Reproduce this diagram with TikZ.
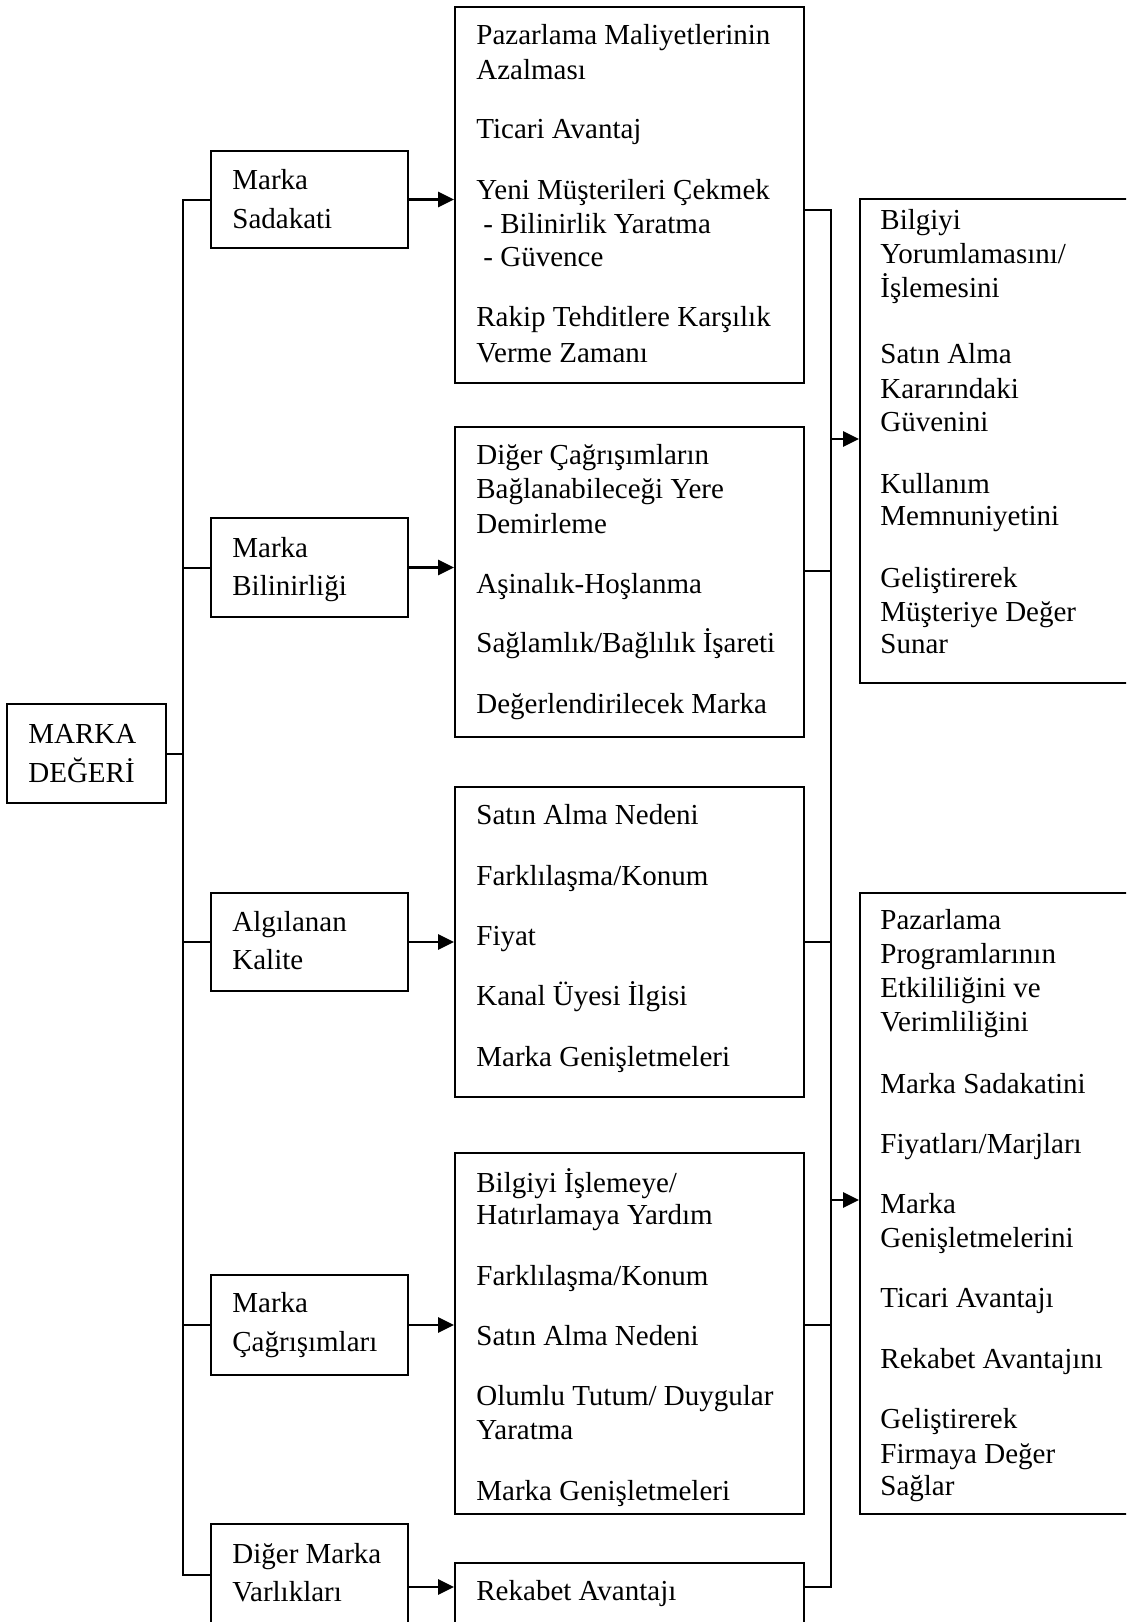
\documentclass[tikz,border=0pt]{standalone}
\usepackage{fontspec}
\setmainfont{Liberation Serif}
\usetikzlibrary{arrows.meta,fit}
\tikzset{
  box/.style={draw=black,line width=1pt,inner sep=0pt,rectangle},
  txt/.style={anchor=base west,inner sep=0pt,font=\fontsize{14.5pt}{17pt}\selectfont},
  conn/.style={draw=black,line width=1pt},
  arr/.style={draw=black,line width=1.4pt,-{Triangle[length=8pt,width=7.5pt]}}
}
\begin{document}
\begin{tikzpicture}[x=0.5pt,y=-0.5pt]
\useasboundingbox (0,0) rectangle (1126,1622);
\clip (0,0) rectangle (1126,1622);
\fill[white] (0,0) rectangle (1126,1622);
% boxes
\node[box,fit={(7,704) (166,803)}] (MD) {};
\node[box,fit={(211,151) (408,248)}] (S1) {};
\node[box,fit={(211,518) (408,617)}] (S2) {};
\node[box,fit={(211,893) (408,991)}] (S3) {};
\node[box,fit={(211,1275) (408,1375)}] (S4) {};
\node[box,fit={(211,1524) (408,1680)}] (S5) {};
\node[box,fit={(455,7) (804,383)}] (M1) {};
\node[box,fit={(455,427) (804,737)}] (M2) {};
\node[box,fit={(455,787) (804,1097)}] (M3) {};
\node[box,fit={(455,1153) (804,1514)}] (M4) {};
\node[box,fit={(455,1563) (804,1680)}] (M5) {};
\node[box,fit={(860,199) (1160,683)}] (R1) {};
\node[box,fit={(860,893) (1160,1514)}] (R2) {};
% texts
\node[txt] (md1) at (28,743) {MARKA};
\node[txt] (md2) at (28,782) {DEĞERİ};
\node[txt] (s1a) at (232,189) {Marka};
\node[txt] (s1b) at (232,228) {Sadakati};
\node[txt] (s2a) at (232,557) {Marka};
\node[txt] (s2b) at (232,595) {Bilinirliği};
\node[txt] (s3a) at (232,931) {Algılanan};
\node[txt] (s3b) at (232,969) {Kalite};
\node[txt] (s4a) at (232,1312) {Marka};
\node[txt] (s4b) at (232,1351) {Çağrışımları};
\node[txt] (s5a) at (232,1563) {Diğer Marka};
\node[txt] (s5b) at (232,1601) {Varlıkları};
\foreach \y/\t [count=\i] in {44/{Pazarlama Maliyetlerinin},79/{Azalması},138/{Ticari Avantaj},199/{Yeni Müşterileri Çekmek},326/{Rakip Tehditlere Karşılık},362/{Verme Zamanı}}
  \node[txt] (m1-\i) at (476,\y) {\t};
\node[txt] (m1-d1) at (483,233) {- Bilinirlik Yaratma};
\node[txt] (m1-d2) at (483,266) {- Güvence};
\foreach \y/\t [count=\i] in {464/{Diğer Çağrışımların},498/{Bağlanabileceği Yere},533/{Demirleme},593/{Aşinalık-Hoşlanma},652/{Sağlamlık/Bağlılık İşareti},713/{Değerlendirilecek Marka}}
  \node[txt] (m2-\i) at (476,\y) {\t};
\foreach \y/\t [count=\i] in {824/{Satın Alma Nedeni},885/{Farklılaşma/Konum},945/{Fiyat},1005/{Kanal Üyesi İlgisi},1066/{Marka Genişletmeleri}}
  \node[txt] (m3-\i) at (476,\y) {\t};
\foreach \y/\t [count=\i] in {1192/{Bilgiyi İşlemeye/},1224/{Hatırlamaya Yardım},1285/{Farklılaşma/Konum},1345/{Satın Alma Nedeni},1405/{Olumlu Tutum/ Duygular},1439/{Yaratma},1500/{Marka Genişletmeleri}}
  \node[txt] (m4-\i) at (476,\y) {\t};
\node[txt] (m5-1) at (476,1600) {Rekabet Avantajı};
\foreach \y/\t [count=\i] in {229/{Bilgiyi},263/{Yorumlamasını/},297/{İşlemesini},363/{Satın Alma},398/{Kararındaki},431/{Güvenini},493/{Kullanım},525/{Memnuniyetini},587/{Geliştirerek},621/{Müşteriye Değer},653/{Sunar}}
  \node[txt] (r1-\i) at (880,\y) {\t};
\foreach \y/\t [count=\i] in {929/{Pazarlama},963/{Programlarının},997/{Etkililiğini ve},1031/{Verimliliğini},1093/{Marka Sadakatini},1153/{Fiyatları/Marjları},1213/{Marka},1247/{Genişletmelerini},1307/{Ticari Avantajı},1368/{Rekabet Avantajını},1428/{Geliştirerek},1463/{Firmaya Değer},1495/{Sağlar}}
  \node[txt] (r2-\i) at (880,\y) {\t};
% left trunk
\coordinate (LT) at (183,199.5);
\coordinate (S5w) at (211,1575);
\draw[conn,line join=miter] (S1.west) -- (LT) |- (S5w);
\draw[conn] (S2.west) -- (S2.west -| LT);
\draw[conn] (S3.west) -- (S3.west -| LT);
\draw[conn] (S4.west) -- (S4.west -| LT);
\draw[conn] (MD.east) -- (MD.east -| LT);
% arrows to middle boxes
\coordinate (S5e) at (408,1587);
\draw[arr] (S1.east) -- (S1.east -| M1.west);
\draw[arr] (S2.east) -- (S2.east -| M2.west);
\draw[arr] (S3.east) -- (S3.east -| M3.west);
\draw[arr] (S4.east) -- (S4.east -| M4.west);
\draw[arr] (S5e) -- (S5e -| M5.west);
% right trunk
\coordinate (RT) at (831,210);
\coordinate (RB) at (831,1587);
\draw[conn,line join=miter] (M1.east |- RT) -- (RT) -- (RB) -- (M5.east |- RB);
\draw[conn] (M2.east |- 0,571) -- (831,571);
\draw[conn] (M3.east) -- (M3.east -| RT);
\draw[conn] (M4.east |- 0,1325) -- (831,1325);
\coordinate (A1) at (831,439);
\coordinate (A2) at (831,1200);
\draw[arr] (A1) -- (A1 -| R1.west);
\draw[arr] (A2) -- (A2 -| R2.west);
\end{tikzpicture}
\end{document}
